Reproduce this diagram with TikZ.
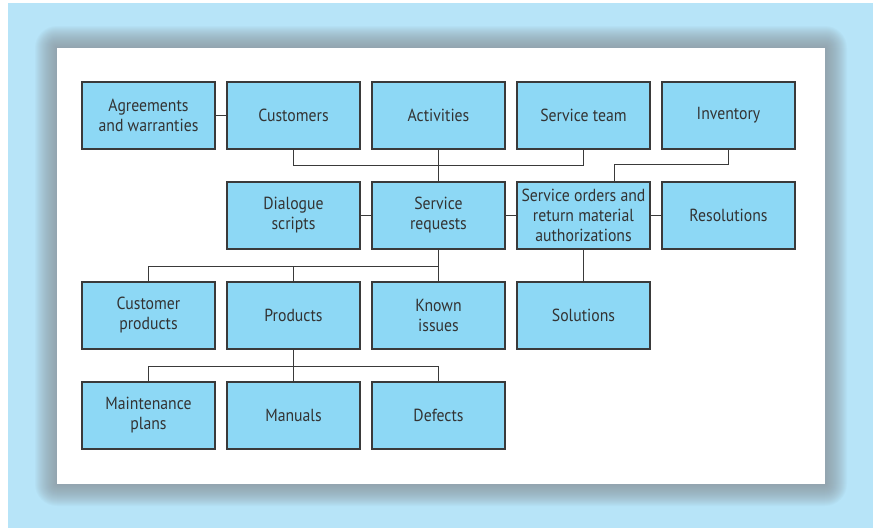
\documentclass[tikz,border=0pt]{standalone}
\usepackage{fontspec}
\setmainfont{PT Sans}[FakeStretch=0.9]
\usetikzlibrary{positioning}
\definecolor{pagebg}{HTML}{B7E4F8}
\definecolor{boxfill}{HTML}{8DD8F5}
\definecolor{boxline}{HTML}{3A3A3A}
\definecolor{inkgray}{HTML}{333333}
\definecolor{shadowgray}{HTML}{8A9298}

\begin{document}
\begin{tikzpicture}[x=1pt,y=-1pt,node distance=145pt,semithick]
   \tikzstyle{entity}=[draw=boxline,fill=boxfill,line width=1.1pt,
                       minimum width=133pt,minimum height=67pt,inner sep=2pt,
                       align=center,text=inkgray,
                       font=\fontsize{17.5}{20}\selectfont]
   \tikzstyle{under}=[below of=#1,node distance=100pt]
   \tikzstyle{link}=[draw=boxline,line width=1.1pt]

   % page, panel and its soft shadow
   \useasboundingbox (0,0) rectangle (873,528);
   \fill[pagebg] (8,3) rectangle (873,528);
   \foreach \d in {1,...,22}
      \fill[shadowgray,opacity=0.05,rounded corners=\d pt]
         (57-\d,48-\d) rectangle (825+\d,484+\d);
   \fill[white] (57,48) rectangle (825,484);

   \node[entity]         (agree)  at (148.5,115.5) {Agreements\\and warranties};
   \node[entity]         (cust)   [right of=agree] {Customers};
   \node[entity]         (act)    [right of=cust]  {Activities};
   \node[entity]         (team)   [right of=act]   {Service team};
   \node[entity]         (inv)    [right of=team]  {Inventory};

   \node[entity]         (dial)   [under=cust]     {Dialogue\\scripts};
   \node[entity]         (req)    [under=act]      {Service\\requests};
   \node[entity]         (ord)    [under=team]     {Service orders and\\return material\\authorizations};
   \node[entity]         (resol)  [under=inv]      {Resolutions};

   \node[entity]         (prod)   [under=dial]     {Products};
   \node[entity]         (cprod)  [left of=prod]   {Customer\\products};
   \node[entity]         (known)  [under=req]      {Known\\issues};
   \node[entity]         (sol)    [under=ord]      {Solutions};

   \node[entity]         (maint)  [under=cprod]    {Maintenance\\plans};
   \node[entity]         (man)    [under=prod]     {Manuals};
   \node[entity]         (defect) [under=known]    {Defects};

   \path[link] (agree) -- (cust)
               (dial) -- (req)
               (req) -- (ord)
               (ord) -- (resol)
               (act) -- (req)
               (ord) -- (sol)
               (req) -- (known)
               (prod) -- (man);
   \path[link] (cust.south) -- ++(0,16) -| (team.south);
   \path[link] (inv.south) -- ++(0,15) -| ([xshift=31pt]ord.north);
   \path[link] (req.south) -- ++(0,17) -| (cprod.north);
   \path[link] (req.south) -- ++(0,17) -| (prod.north);
   \path[link] (prod.south) -- ++(0,17) -| (maint.north);
   \path[link] (prod.south) -- ++(0,17) -| (defect.north);
\end{tikzpicture}
\end{document}
